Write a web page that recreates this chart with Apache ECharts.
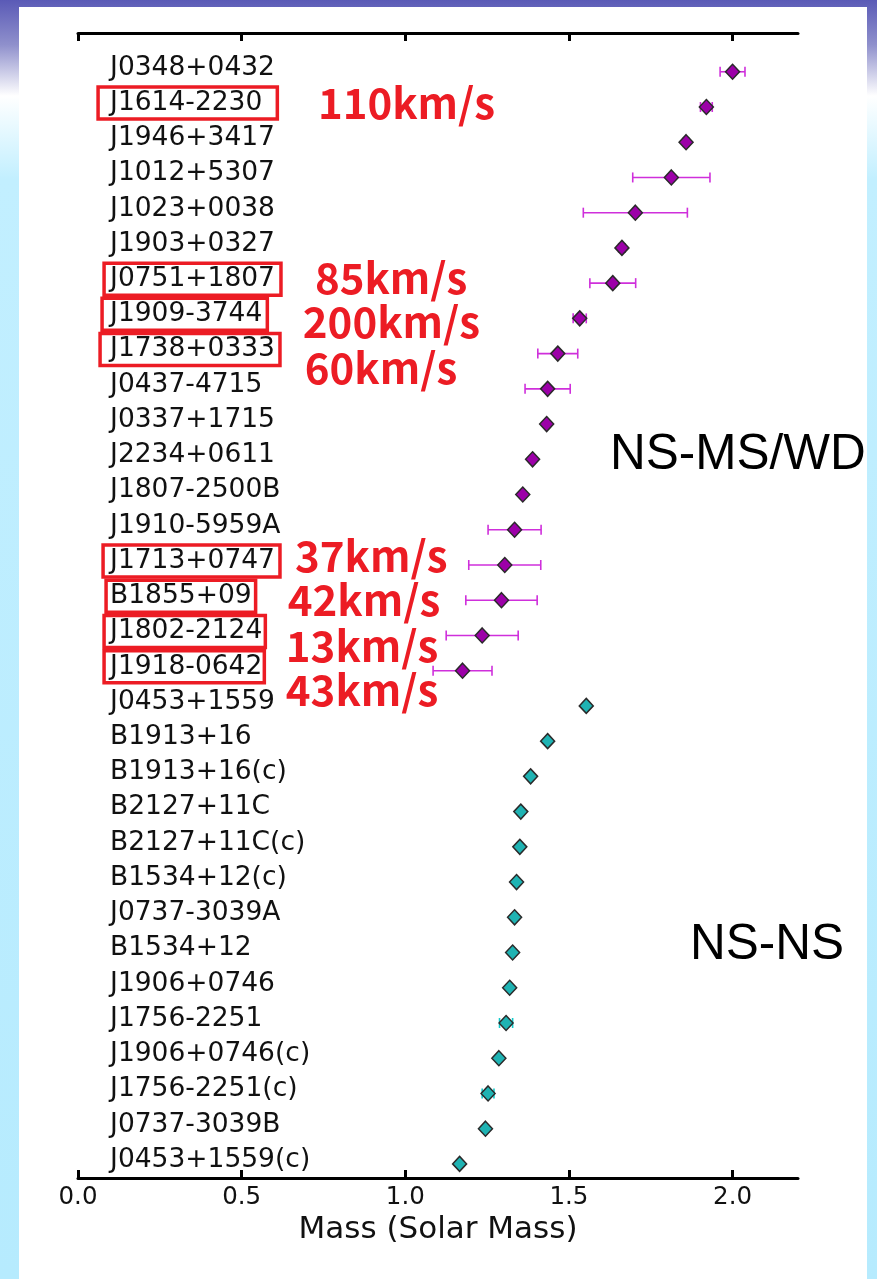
<!DOCTYPE html>
<html>
<head>
<meta charset="utf-8">
<script src="https://cdn.jsdelivr.net/npm/echarts@6/dist/echarts.min.js"></script>
<style>
  html, body { margin: 0; padding: 0; width: 877px; height: 1279px; overflow: hidden; background: #b6ebfe; }
  #chart { width: 877px; height: 1279px; }
</style>
</head>
<body>
<div id="chart"></div>
<script>
// Neutron stars with a main-sequence / white-dwarf companion, listed top to bottom
const msNames = ['J0348+0432', 'J1614-2230', 'J1946+3417', 'J1012+5307', 'J1023+0038', 'J1903+0327',
  'J0751+1807', 'J1909-3744', 'J1738+0333', 'J0437-4715', 'J0337+1715', 'J2234+0611',
  'J1807-2500B', 'J1910-5959A', 'J1713+0747', 'B1855+09', 'J1802-2124', 'J1918-0642'];
const msMass = [2.00, 1.92, 1.858, 1.813, 1.703, 1.662, 1.634, 1.533, 1.466, 1.435, 1.432, 1.389,
  1.359, 1.334, 1.304, 1.294, 1.235, 1.175];
const msErr = [0.038, 0.018, 0.008, 0.118, 0.159, 0.01, 0.07, 0.02, 0.061, 0.069, 0.004, 0.004,
  0.004, 0.081, 0.11, 0.109, 0.11, 0.09];

// Double neutron star systems ((c) = companion)
const nsNames = ['J0453+1559', 'B1913+16', 'B1913+16(c)', 'B2127+11C', 'B2127+11C(c)', 'B1534+12(c)',
  'J0737-3039A', 'B1534+12', 'J1906+0746', 'J1756-2251', 'J1906+0746(c)', 'J1756-2251(c)',
  'J0737-3039B', 'J0453+1559(c)'];
const nsMass = [1.553, 1.435, 1.383, 1.353, 1.35, 1.34, 1.334, 1.328, 1.319, 1.308, 1.286, 1.253,
  1.245, 1.166];
const nsErr = [0.004, 0.002, 0.002, 0.004, 0.004, 0.002, 0.002, 0.002, 0.004, 0.02, 0.004, 0.018,
  0.002, 0.004];

const xTicks = [0.0, 0.5, 1.0, 1.5, 2.0];

// Pulsars that are highlighted with a box, and the transverse velocities written beside them
const boxedNames = ['J1614-2230', 'J0751+1807', 'J1909-3744', 'J1738+0333', 'J1713+0747', 'B1855+09',
  'J1802-2124', 'J1918-0642'];
const velocityText = ['110km/s', '85km/s', '200km/s', '60km/s', '37km/s', '42km/s', '13km/s', '43km/s'];
// anchor of each velocity note: left edge (mass units) and row position
const velocityMass = [0.733, 0.724, 0.687, 0.693, 0.663, 0.641, 0.635, 0.635];
const velocityRow = [30.11, 25.15, 23.90, 22.59, 17.26, 16.01, 14.70, 13.45];

// ---- styling ----
const NAME_X = 0.098;           // left edge of the name column, in mass units
const NAME_FONT = 'DejaVu Sans';
const boxPad = {                 // [top, right, bottom, left] for each box
  'J1614-2230': [3, 15, 3, 12],
  'J0751+1807': [3, 6, 3, 6],
  'J1909-3744': [3, 5, 3, 8],
  'J1738+0333': [3, 5, 3, 10],
  'J1713+0747': [3, 5, 3, 7],
  'B1855+09':   [3, 4, 3, 4],
  'J1802-2124': [3, 3, 3, 6],
  'J1918-0642': [3, 2, 3, 6]
};

const allNames = msNames.concat(nsNames);
const nRows = allNames.length;
const rowOf = k => nRows - 1 - k;

const msPoints = msMass.map((m, i) => [m, rowOf(i), msErr[i]]);
const nsPoints = nsMass.map((m, i) => [m, rowOf(msNames.length + i), nsErr[i]]);

const nameItems = allNames.map((name, k) => {
  const item = { value: [NAME_X, rowOf(k)], name: name };
  if (boxedNames.includes(name)) {
    const p = boxPad[name];
    item.label = {
      borderColor: '#ec1c24',
      borderWidth: 3.5,
      padding: p,
      offset: [-p[3], -4]
    };
  }
  return item;
});

const velocityItems = velocityText.map((t, i) => ({ value: [velocityMass[i], velocityRow[i]], name: t }));

function errorBars(color) {
  return function (params, api) {
    const m = api.value(0), y = api.value(1), e = api.value(2);
    const a = api.coord([m - e, y]);
    const b = api.coord([m + e, y]);
    const h = 5;
    const style = { stroke: color, lineWidth: 1.6 };
    return {
      type: 'group',
      children: [
        { type: 'line', shape: { x1: a[0], y1: a[1], x2: b[0], y2: b[1] }, style: style },
        { type: 'line', shape: { x1: a[0], y1: a[1] - h, x2: a[0], y2: a[1] + h }, style: style },
        { type: 'line', shape: { x1: b[0], y1: b[1] - h, x2: b[0], y2: b[1] + h }, style: style }
      ]
    };
  };
}

const chart = echarts.init(document.getElementById('chart'), null, { renderer: 'canvas' });

const xAxisCommon = {
  type: 'value',
  min: 0,
  max: 2.2,
  interval: 0.5,
  splitLine: { show: false },
  axisLine: { show: true, onZero: false, lineStyle: { color: '#000', width: 3 } },
  axisTick: { show: true, inside: true, length: 8, lineStyle: { color: '#000', width: 3 }, customValues: xTicks }
};

chart.setOption({
  animation: false,
  backgroundColor: {
    type: 'linear', x: 0, y: 0, x2: 0, y2: 1,
    colorStops: [
      { offset: 0, color: '#5a5ab6' },
      { offset: 0.035, color: '#8f90cc' },
      { offset: 0.075, color: '#ffffff' },
      { offset: 0.14, color: '#c2efff' },
      { offset: 1, color: '#b6ebfe' }
    ]
  },
  graphic: [
    { type: 'rect', z: -10, shape: { x: 19, y: 7, width: 848, height: 1300 }, style: { fill: '#ffffff' } },
    { type: 'text', z: 10, style: { text: 'NS-MS/WD', x: 610, y: 455, font: '49.5px "Liberation Sans"', fill: '#000', textVerticalAlign: 'middle', verticalAlign: 'middle' } },
    { type: 'text', z: 10, style: { text: 'NS-NS', x: 690, y: 945, font: '49.5px "Liberation Sans"', fill: '#000', textVerticalAlign: 'middle', verticalAlign: 'middle' } }
  ],
  grid: { left: 78, top: 33, width: 720, height: 1145, containLabel: false },
  xAxis: [
    Object.assign({}, xAxisCommon, {
      position: 'bottom',
      name: 'Mass (Solar Mass)',
      nameLocation: 'middle',
      nameGap: 35,
      nameTextStyle: { fontFamily: NAME_FONT, fontSize: 31, color: '#111', verticalAlign: 'top' },
      axisLabel: {
        show: true, margin: 7, fontFamily: NAME_FONT, fontSize: 24.5, color: '#111',
        customValues: xTicks,
        formatter: v => v.toFixed(1)
      }
    }),
    Object.assign({}, xAxisCommon, {
      position: 'top',
      axisLabel: { show: false }
    })
  ],
  yAxis: {
    type: 'value',
    min: -0.4,
    max: 32.1,
    show: false
  },
  series: [
    {
      type: 'custom', xAxisIndex: 0, renderItem: errorBars('#cf2fdb'),
      data: msPoints, encode: { x: 0, y: 1 }, z: 3
    },
    {
      type: 'scatter', xAxisIndex: 0, symbol: 'diamond', symbolSize: [14, 15],
      itemStyle: { color: '#9c00a8', borderColor: '#2a2a2a', borderWidth: 1.5, opacity: 1 },
      data: msPoints.map(p => [p[0], p[1]]), z: 4
    },
    {
      type: 'custom', xAxisIndex: 0, renderItem: errorBars('#12caca'),
      data: nsPoints, encode: { x: 0, y: 1 }, z: 3
    },
    {
      type: 'scatter', xAxisIndex: 0, symbol: 'diamond', symbolSize: [14, 15],
      itemStyle: { color: '#1fb3b3', borderColor: '#2a2a2a', borderWidth: 1.5, opacity: 1 },
      data: nsPoints.map(p => [p[0], p[1]]), z: 4
    },
    {
      type: 'scatter', xAxisIndex: 0, symbolSize: 0, silent: true, z: 5,
      itemStyle: { opacity: 1 },
      label: {
        show: true, position: 'right', distance: 0, offset: [0, -4],
        formatter: p => p.name,
        fontFamily: NAME_FONT, fontSize: 26.5, lineHeight: 26, color: '#111'
      },
      data: nameItems
    },
    {
      type: 'scatter', xAxisIndex: 0, symbolSize: 0, silent: true, z: 5,
      itemStyle: { opacity: 1 },
      label: {
        show: true, position: 'right', distance: 0,
        formatter: p => p.name,
        fontFamily: '"Noto Sans CJK JP", "Noto Sans"', fontWeight: 'bold', fontSize: 42, color: '#ec1c24'
      },
      data: velocityItems
    }
  ]
});
</script>
</body>
</html>
